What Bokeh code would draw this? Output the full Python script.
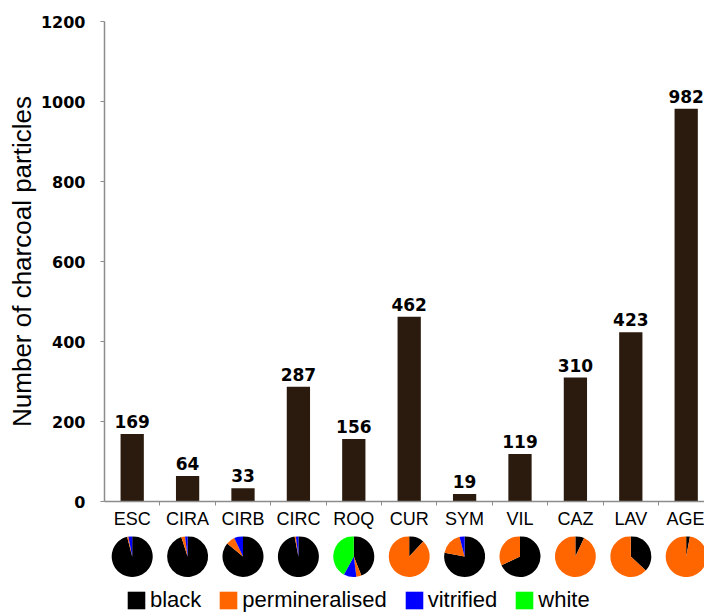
import math
from bokeh.plotting import figure
from bokeh.layouts import column
from bokeh.models import (Range1d, FixedTicker, ColumnDataSource, LabelSet,
                          Legend, LegendItem)
from bokeh.core.properties import value
from bokeh.embed import file_html
from bokeh.resources import INLINE

# ---- data ----
sites = ["ESC", "CIRA", "CIRB", "CIRC", "ROQ", "CUR", "SYM", "VIL", "CAZ", "LAV", "AGE"]
counts = [169, 64, 33, 287, 156, 462, 19, 119, 310, 423, 982]
# composition (%) of each site's charcoal
pct_black = [96, 95, 86, 97, 44, 12, 78, 68, 7, 37, 3]
pct_perm = [1, 3, 7, 1, 4, 88, 18, 32, 93, 63, 97]
pct_vitr = [3, 2, 7, 2, 10, 0, 4, 0, 0, 0, 0]
pct_white = [0, 0, 0, 0, 42, 0, 0, 0, 0, 0, 0]
class_names = ["black", "permineralised", "vitrified", "white"]
class_colors = ["#000000", "#ff6600", "#0000ff", "#00ff00"]
y_ticks = [0, 200, 400, 600, 800, 1000, 1200]

BAR_COLOR = "#2b1b0e"
AXIS_COLOR = "#8c8c8c"

n = len(sites)
centers = [i + 0.5 for i in range(n)]
bounds = [float(i) for i in range(1, n + 1)]
x_range = Range1d(0, 600 / 55.4)

# ---- bar chart ----
p = figure(width=704, height=536, x_range=x_range, y_range=Range1d(0, 1200),
           output_backend="svg", toolbar_location=None,
           min_border_left=104, min_border_right=0, min_border_top=21,
           min_border_bottom=35)
p.outline_line_color = None
p.xgrid.visible = False
p.ygrid.visible = False

src = ColumnDataSource(dict(x=centers, top=counts, lab=[str(c) for c in counts]))
p.vbar(x="x", top="top", width=0.42, source=src, fill_color=BAR_COLOR,
       line_color=None)
labels = LabelSet(x="x", y="top", text="lab", source=src, y_offset=6,
                  text_align="center", text_baseline="alphabetic",
                  text_font=value("DejaVu Sans"), text_font_style="bold",
                  text_font_size="17px", text_color="#000000")
p.add_layout(labels)

xa = p.xaxis[0]
xa.ticker = FixedTicker(ticks=centers, minor_ticks=bounds)
xa.major_label_overrides = {c: s for c, s in zip(centers, sites)}
xa.major_tick_line_color = None
xa.major_tick_out = 0
xa.major_tick_in = 0
xa.minor_tick_out = 4
xa.minor_tick_in = 0
xa.minor_tick_line_color = AXIS_COLOR
xa.axis_line_color = AXIS_COLOR
xa.axis_line_width = 1.5
xa.major_label_standoff = 3
xa.major_label_text_font = "Liberation Sans"
xa.major_label_text_font_size = "18px"
xa.major_label_text_color = "#000000"

ya = p.yaxis[0]
ya.ticker = FixedTicker(ticks=y_ticks)
ya.axis_line_color = AXIS_COLOR
ya.axis_line_width = 1.5
ya.major_tick_line_color = AXIS_COLOR
ya.major_tick_out = 4
ya.major_tick_in = 0
ya.minor_tick_line_color = None
ya.major_label_standoff = 15
ya.major_label_text_font = "DejaVu Sans"
ya.major_label_text_font_style = "bold"
ya.major_label_text_font_size = "16px"
ya.major_label_text_color = "#000000"
ya.axis_label = "Number of charcoal particles"
ya.axis_label_text_font = "Liberation Sans"
ya.axis_label_text_font_style = "normal"
ya.axis_label_text_font_size = "26px"
ya.axis_label_text_color = "#000000"
ya.axis_label_standoff = 1

# ---- pies + legend ----
PH = 78
q = figure(width=704, height=PH, x_range=x_range, y_range=Range1d(0, PH),
           output_backend="svg", toolbar_location=None,
           min_border_left=104, min_border_right=0, min_border_top=0,
           min_border_bottom=0)
q.axis.visible = False
q.xgrid.visible = False
q.ygrid.visible = False
q.outline_line_color = None

pie_y = PH - 20
all_pcts = [pct_black, pct_perm, pct_vitr, pct_white]
cum = [0.0] * n
renderers = []
for name, color, pcts in zip(class_names, class_colors, all_pcts):
    xs, starts, ends = [], [], []
    for i in range(n):
        tot = pct_black[i] + pct_perm[i] + pct_vitr[i] + pct_white[i]
        f = pcts[i] / tot
        if f > 0:
            xs.append(centers[i])
            starts.append(math.pi / 2 - 2 * math.pi * cum[i])
            ends.append(math.pi / 2 - 2 * math.pi * (cum[i] + f))
        cum[i] += f
    r = q.wedge(x=xs, y=[pie_y] * len(xs), radius=20.5, radius_units="screen",
                start_angle=starts, end_angle=ends, direction="clock",
                fill_color=color, line_color=None)
    renderers.append(r)

legend = Legend(items=[LegendItem(label=nm, renderers=[r])
                       for nm, r in zip(class_names, renderers)],
                orientation="horizontal", location=(21, 1),
                glyph_width=22, glyph_height=22, label_height=22,
                label_standoff=3, spacing=16, padding=0, margin=0,
                border_line_color=None, background_fill_alpha=0,
                label_text_font="Liberation Sans", label_text_font_size="22px",
                label_text_color="#000000")
q.add_layout(legend, "center")

layout = column(p, q, spacing=0)
open("out.html", "w").write(file_html(layout, INLINE))
